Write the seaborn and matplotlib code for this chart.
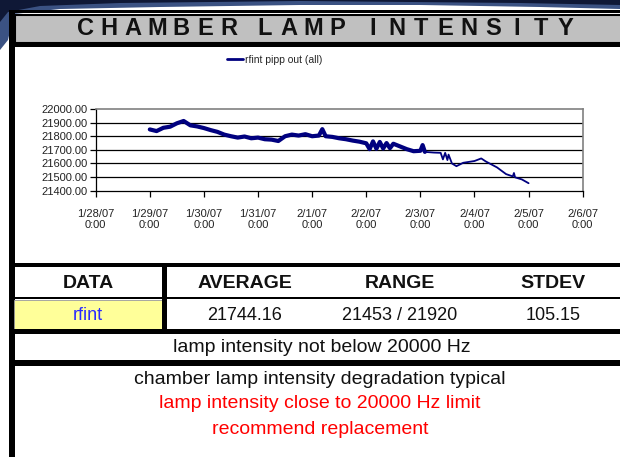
import numpy as np
import pandas as pd
import seaborn as sns
import matplotlib.pyplot as plt
import matplotlib.dates as mdates
from matplotlib.patches import Rectangle, Polygon

# serie rfint: parte rumorosa (linea spessa) e parte finale
tempi_rumore = ["2007-01-29 00:00", "2007-01-29 03:00", "2007-01-29 06:00", "2007-01-29 09:00",
                "2007-01-29 12:00", "2007-01-29 15:00", "2007-01-29 18:00", "2007-01-29 21:00",
                "2007-01-30 00:00", "2007-01-30 03:00", "2007-01-30 06:00", "2007-01-30 09:00",
                "2007-01-30 12:00", "2007-01-30 15:00", "2007-01-30 18:00", "2007-01-30 21:00",
                "2007-01-31 00:00", "2007-01-31 03:00", "2007-01-31 06:00", "2007-01-31 09:00",
                "2007-01-31 12:00", "2007-01-31 15:00", "2007-01-31 18:00", "2007-01-31 21:00",
                "2007-02-01 00:00", "2007-02-01 03:00", "2007-02-01 04:30", "2007-02-01 06:00",
                "2007-02-01 09:00", "2007-02-01 12:00", "2007-02-01 15:00", "2007-02-01 18:00",
                "2007-02-01 21:00", "2007-02-02 00:00", "2007-02-02 01:30", "2007-02-02 03:00",
                "2007-02-02 04:30", "2007-02-02 06:00", "2007-02-02 07:30", "2007-02-02 09:00",
                "2007-02-02 10:30", "2007-02-02 12:00", "2007-02-02 15:00", "2007-02-02 18:00",
                "2007-02-02 21:00", "2007-02-03 00:00", "2007-02-03 01:00", "2007-02-03 02:00"]
valori_rumore = [21850, 21838, 21862, 21870,
                 21895, 21912, 21880, 21872,
                 21860, 21845, 21832, 21812,
                 21800, 21790, 21798, 21785,
                 21790, 21778, 21775, 21765,
                 21800, 21812, 21805, 21815,
                 21800, 21805, 21852, 21800,
                 21795, 21785, 21778, 21768,
                 21760, 21748, 21705, 21762,
                 21708, 21758, 21710, 21750,
                 21712, 21745, 21725, 21705,
                 21690, 21693, 21735, 21685]

tempi_finali = ["2007-02-03 02:00", "2007-02-03 06:00", "2007-02-03 09:00", "2007-02-03 10:00",
                "2007-02-03 11:00", "2007-02-03 12:00", "2007-02-03 12:30", "2007-02-03 14:00",
                "2007-02-03 16:00", "2007-02-03 19:00", "2007-02-04 00:00", "2007-02-04 03:00",
                "2007-02-04 05:00", "2007-02-04 10:00", "2007-02-04 14:00", "2007-02-04 17:00",
                "2007-02-04 17:30", "2007-02-04 18:00", "2007-02-04 21:00", "2007-02-05 00:00"]
valori_finali = [21685, 21680, 21678, 21630,
                 21678, 21625, 21665, 21600,
                 21580, 21605, 21618, 21637,
                 21615, 21571, 21522, 21505,
                 21530, 21498, 21483, 21455]

titolo = "CHAMBER LAMP INTENSITY"
etichetta = "rfint pipp out (all)"
colonne = ["DATA", "AVERAGE", "RANGE", "STDEV"]
riga_valori = ["rfint", "21744.16", "21453 / 21920", "105.15"]
nota = "lamp intensity not below 20000 Hz"
commenti = ["chamber lamp intensity degradation typical",
            "lamp intensity close to 20000 Hz limit",
            "recommend replacement"]
colori_commenti = ["#111111", "#ff0000", "#ff0000"]

df_rumore = pd.DataFrame({"tempo": pd.to_datetime(tempi_rumore), "rfint": valori_rumore})
df_fine = pd.DataFrame({"tempo": pd.to_datetime(tempi_finali), "rfint": valori_finali})

sns.set_theme(style="white")
plt.rcParams["font.family"] = ["Liberation Sans", "DejaVu Sans"]

W, H = 620, 457
fig = plt.figure(figsize=(W / 100, H / 100), dpi=100)
fig.patch.set_facecolor("white")

# sfondo in pixel: cornice, titolo e tabella
bg = fig.add_axes([0, 0, 1, 1])
bg.set_xlim(0, W)
bg.set_ylim(H, 0)
bg.axis("off")

bg.add_patch(Polygon([(0, 0), (620, 0), (620, 9), (540, 7), (420, 5), (300, 5),
                      (160, 7), (60, 9), (14, 14), (8, 40), (0, 50)],
                     closed=True, color="#3b5283", lw=0))
bg.add_patch(Polygon([(0, 0), (620, 0), (620, 5), (520, 3), (300, 1), (120, 3),
                      (40, 6), (8, 12), (0, 22)],
                     closed=True, color="#0f1836", lw=0))

nero = "black"
bg.add_patch(Rectangle((9, 10), 620, 2.5, color=nero, lw=0))
bg.add_patch(Rectangle((9, 10), 6, 460, color=nero, lw=0))
bg.add_patch(Rectangle((15, 14.5), 610, 28, facecolor="#c0c0c0", edgecolor=nero, lw=1.5))
bg.add_patch(Rectangle((9, 42), 620, 5, color=nero, lw=0))
bg.add_patch(Rectangle((9, 263), 620, 4, color=nero, lw=0))
bg.add_patch(Rectangle((9, 297), 620, 2, color=nero, lw=0))
bg.add_patch(Rectangle((14, 299.5), 148, 29, facecolor="#ffff99", edgecolor="#999999", lw=0.6))
bg.add_patch(Rectangle((162, 267), 5, 62, color=nero, lw=0))
bg.add_patch(Rectangle((9, 329), 620, 5, color=nero, lw=0))
bg.add_patch(Rectangle((9, 360), 620, 6, color=nero, lw=0))

# titolo con lettere spaziate (lo spazio vale mezzo passo)
lettere = sum(1 for c in titolo if c != " ")
spazi = titolo.count(" ")
passo = (565 - 85) / (lettere - 1 + 0.5 * spazi)
x = 85
for i, c in enumerate(titolo):
    if c == " ":
        x += 0.5 * passo
        continue
    if i > 0:
        x += passo
    bg.text(x, 28.5, c, ha="center", va="center",
            fontsize=17, fontweight="bold", color="#111111")

centri = [88, 245, 400, 553]
for cx, testo in zip(centri, colonne):
    bg.text(cx, 283, testo, ha="center", va="center", fontsize=14, fontweight="bold", color="#111111")
for i, (cx, testo) in enumerate(zip(centri, riga_valori)):
    bg.text(cx, 315, testo, ha="center", va="center", fontsize=13,
            color="#2a2aff" if i == 0 else "#111111")
bg.text(322, 347, nota, ha="center", va="center", fontsize=14, color="#111111")
for j, (testo, col) in enumerate(zip(commenti, colori_commenti)):
    bg.text(320, 379 + j * 25, testo, ha="center", va="center", fontsize=14, color=col)

# grafico
ax = fig.add_axes([95.7 / W, 1 - 190.7 / H, 487 / W, 81.7 / H])
ax.set_facecolor("white")
sns.lineplot(data=df_rumore, x="tempo", y="rfint", ax=ax, color="#00007f", lw=3.0, label=etichetta)
sns.lineplot(data=df_fine, x="tempo", y="rfint", ax=ax, color="#00007f", lw=1.3)

ax.set_xlim(pd.Timestamp("2007-01-28"), pd.Timestamp("2007-02-06"))
ax.set_ylim(21400, 22000)
ax.set_yticks(np.arange(21400, 22001, 100))
ax.yaxis.set_major_formatter(plt.FormatStrFormatter("%.2f"))
ax.xaxis.set_major_locator(mdates.DayLocator())
ax.xaxis.set_major_formatter(mdates.DateFormatter("%-m/%-d/%y\n%-H:%M"))
ax.set_xlabel("")
ax.set_ylabel("")
for y in range(21500, 22000, 100):
    ax.axhline(y, color="black", lw=0.9, zorder=0)
for lato in ["top", "right"]:
    ax.spines[lato].set_color("#808080")
    ax.spines[lato].set_linewidth(1.2)
for lato in ["left", "bottom"]:
    ax.spines[lato].set_color("black")
    ax.spines[lato].set_linewidth(0.9)
ax.tick_params(axis="both", direction="out", length=4, width=0.9, color="black",
               labelsize=8, labelcolor="#222222", pad=2, bottom=True, left=True)
ax.tick_params(axis="x", pad=9)

leg = ax.legend(loc="center left", bbox_to_anchor=(227 / W, 1 - 60 / H),
                bbox_transform=fig.transFigure, frameon=False, fontsize=7.5,
                handlelength=1.5, handletextpad=0.25, borderaxespad=0, borderpad=0)
for h in leg.legend_handles:
    h.set_linewidth(2)

fig.savefig("out.png", dpi=100)
